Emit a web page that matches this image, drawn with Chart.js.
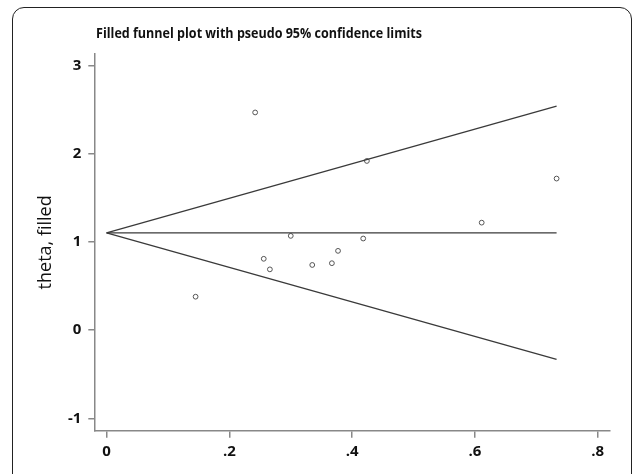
<!DOCTYPE html>
<html>
<head>
<meta charset="utf-8">
<script src="https://cdn.jsdelivr.net/npm/chart.js@4.4.1/dist/chart.umd.min.js"></script>
<style>
  body { margin: 0; background: #fff; }
  #wrap { position: relative; width: 637px; height: 474px; overflow: hidden; }
  #frame {
    position: absolute; left: 12px; top: 7px; width: 620px; height: 500px;
    border: 1.5px solid #222; border-radius: 12px; box-sizing: border-box;
  }
  #chart { position: absolute; left: 0; top: 0; }
</style>
</head>
<body>
<div id="wrap">
  <div id="frame"></div>
  <canvas id="chart" width="637" height="474"></canvas>
</div>
<script>
// studies: standard error vs. theta (filled)
const seTheta = [0.242, 0.424, 0.300, 0.418, 0.377, 0.256, 0.266, 0.335, 0.367, 0.145, 0.611, 0.733];
const thetaFilled = [2.47, 1.92, 1.07, 1.04, 0.90, 0.81, 0.69, 0.74, 0.76, 0.38, 1.22, 1.72];

// pseudo 95% limits, read at se = 0 and at the largest se
const funnelSe = [0, 0.733];
const upperLimit = [1.105, 2.543];
const pooledLine = [1.105, 1.105];
const lowerLimit = [1.105, -0.332];

const xTicks = [0, 0.2, 0.4, 0.6, 0.8];
const xTickLabels = ["0", ".2", ".4", ".6", ".8"];
const yTicks = [-1, 0, 1, 2, 3];
const yTickLabels = ["-1", "0", "1", "2", "3"];

const toXY = (xs, ys) => xs.map((x, i) => ({x: x, y: ys[i]}));

const lineStyle = {
  type: "line",
  borderColor: "#3a3a3a",
  borderWidth: 1.3,
  pointRadius: 0,
  fill: false,
  tension: 0
};

// stata-style title, narrow and left aligned
const titlePlugin = {
  id: "leftTitle",
  afterDraw(chart) {
    const ctx = chart.ctx;
    const text = "Filled funnel plot with pseudo 95% confidence limits";
    ctx.save();
    ctx.fillStyle = "#111";
    ctx.font = "bold 15px 'Open Sans', sans-serif";
    ctx.textBaseline = "alphabetic";
    const w = ctx.measureText(text).width;
    ctx.translate(96, 38);
    ctx.scale(326 / w, 1);
    ctx.fillText(text, 0, 0);
    ctx.restore();
  }
};

const tickFont = {family: "'Open Sans', sans-serif", size: 15, weight: "bold"};

new Chart(document.getElementById("chart"), {
  type: "scatter",
  data: {
    datasets: [
      Object.assign({label: "upper", data: toXY(funnelSe, upperLimit)}, lineStyle),
      Object.assign({label: "pooled", data: toXY(funnelSe, pooledLine)}, lineStyle),
      Object.assign({label: "lower", data: toXY(funnelSe, lowerLimit)}, lineStyle),
      {
        label: "theta, filled",
        data: toXY(seTheta, thetaFilled),
        pointStyle: "circle",
        pointRadius: 2.4,
        pointBorderWidth: 1,
        pointBorderColor: "#555",
        pointBackgroundColor: "#fff"
      }
    ]
  },
  options: {
    responsive: false,
    devicePixelRatio: 1,
    animation: false,
    layout: {padding: {top: 54, right: 27, bottom: 0, left: 0}},
    plugins: {legend: {display: false}, tooltip: {enabled: false}, title: {display: false}},
    scales: {
      x: {
        type: "linear",
        min: -0.02,
        max: 0.82,
        afterBuildTicks: s => { s.ticks = xTicks.map(v => ({value: v})); },
        afterFit: s => { s.height = 43.3; },
        border: {color: "#888", width: 1.5},
        grid: {drawOnChartArea: false, drawTicks: true, tickLength: 7, color: "#888", lineWidth: 1.5},
        ticks: {
          color: "#111",
          font: tickFont,
          padding: 5,
          maxRotation: 0,
          callback: (v) => xTickLabels[xTicks.indexOf(v)]
        }
      },
      y: {
        type: "linear",
        min: -1.14,
        max: 3.133,
        afterBuildTicks: s => { s.ticks = yTicks.map(v => ({value: v})); },
        afterFit: s => { s.width = 94.3; },
        border: {color: "#888", width: 1.5},
        grid: {drawOnChartArea: false, drawTicks: true, tickLength: 6, color: "#888", lineWidth: 1.5},
        title: {
          display: true,
          text: "theta, filled",
          color: "#111",
          font: {family: "'Open Sans', sans-serif", size: 18, weight: "500"},
          padding: {top: 35, bottom: 0}
        },
        ticks: {
          color: "#111",
          font: tickFont,
          padding: 7,
          callback: (v) => yTickLabels[yTicks.indexOf(v)]
        }
      }
    }
  },
  plugins: [titlePlugin]
});
</script>
</body>
</html>
